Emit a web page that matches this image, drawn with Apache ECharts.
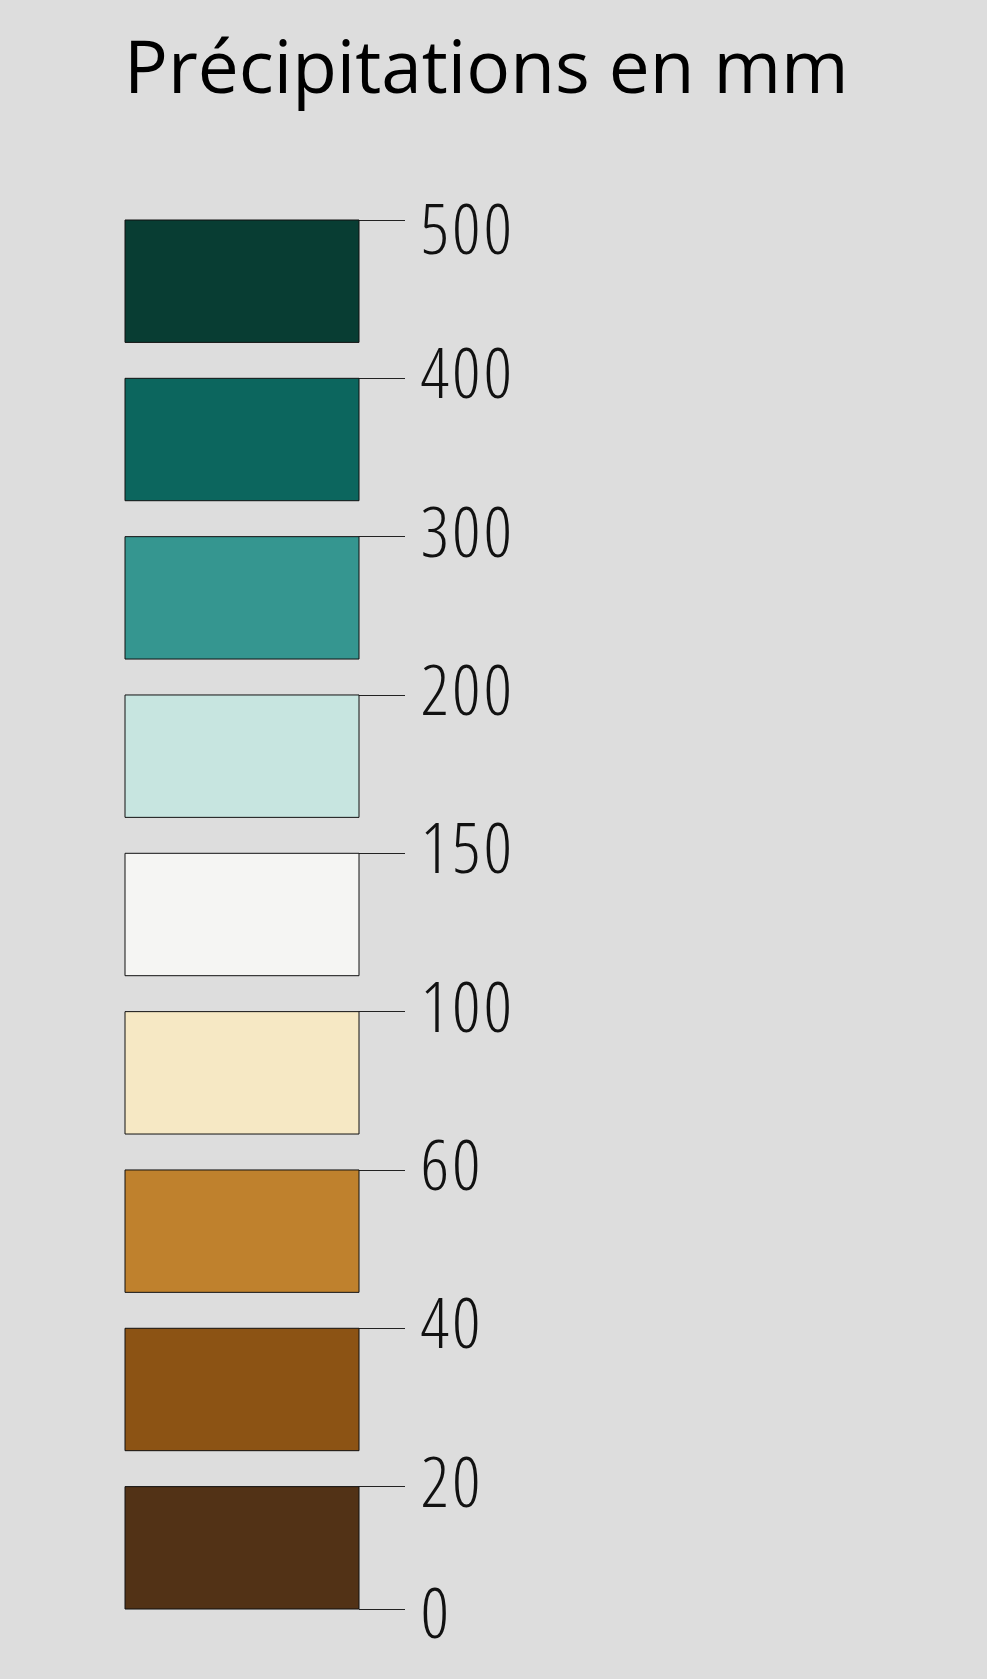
<!DOCTYPE html>
<html>
<head>
<meta charset="utf-8">
<script src="https://cdn.jsdelivr.net/npm/echarts@6/dist/echarts.min.js"></script>
<style>
  html, body { margin: 0; padding: 0; background: #dddddd; }
  #legendChart { width: 987px; height: 1679px; }
</style>
</head>
<body>
<div id="legendChart"></div>
<script>
// classes from bottom to top
const breaks = ['0', '20', '40', '60', '100', '150', '200', '300', '400', '500'];
const classColors = ['#523216', '#8c5314', '#bf812d', '#f6e8c4', '#f5f5f3', '#c7e5e0', '#359690', '#0c665e', '#083d33'];
const titleText = 'Précipitations en mm';

// each class takes one slot, the box fills part of it
const boxPart = 0.773;

const boxes = classColors.map((c, i) => [i, c]);
const tickValues = breaks.map((b, i) => (i === 0 ? 0 : i - 1 + boxPart));

const labelFont = { fontFamily: 'Open Sans', fontWeight: 'condensed 300', fontSize: 70, color: '#111' };

let chart = echarts.init(document.getElementById('legendChart'));

chart.setOption({
  backgroundColor: '#dddddd',
  animation: false,
  title: {
    text: titleText,
    left: 119,
    top: 31,
    textStyle: {
      fontFamily: 'Open Sans',
      fontWeight: 'normal',
      fontSize: 73,
      color: '#000'
    }
  },
  grid: {
    left: 125,
    right: 628,
    top: 220,
    bottom: 70
  },
  xAxis: {
    type: 'value',
    min: 0,
    max: 1,
    show: false
  },
  yAxis: {
    type: 'value',
    position: 'right',
    min: 0,
    max: classColors.length - 1 + boxPart,
    axisLine: { show: false, onZero: false },
    splitLine: { show: false },
    axisTick: {
      show: true,
      length: 46,
      customValues: tickValues,
      lineStyle: { color: '#222', width: 1 }
    },
    axisLabel: Object.assign({
      customValues: tickValues,
      margin: 60,
      align: 'left',
      formatter: function (v) {
        let i = v === 0 ? 0 : Math.round(v - boxPart) + 1;
        let key = 'd';
        if (i === breaks.length - 1) key = 't';
        if (i === 0) key = 'b';
        // one token per digit, to space the narrow digits a little
        return breaks[i].split('').map(ch => '{' + key + '|' + ch + '}').join('');
      },
      rich: {
        d: Object.assign({ padding: [0, 1.5, 0, 1.5] }, labelFont),
        t: Object.assign({ padding: [28, 1.5, 0, 1.5] }, labelFont),
        b: Object.assign({ padding: [18, 1.5, 0, 1.5] }, labelFont)
      }
    }, labelFont)
  },
  series: [{
    type: 'custom',
    data: boxes,
    renderItem: function (params, api) {
      let i = api.value(0);
      let p0 = api.coord([0, i + boxPart]);
      let p1 = api.coord([1, i]);
      return {
        type: 'rect',
        shape: { x: p0[0], y: p0[1], width: p1[0] - p0[0], height: p1[1] - p0[1] },
        style: { fill: classColors[i], stroke: '#111', lineWidth: 1 }
      };
    },
    encode: { y: 0 }
  }]
});
</script>
</body>
</html>
